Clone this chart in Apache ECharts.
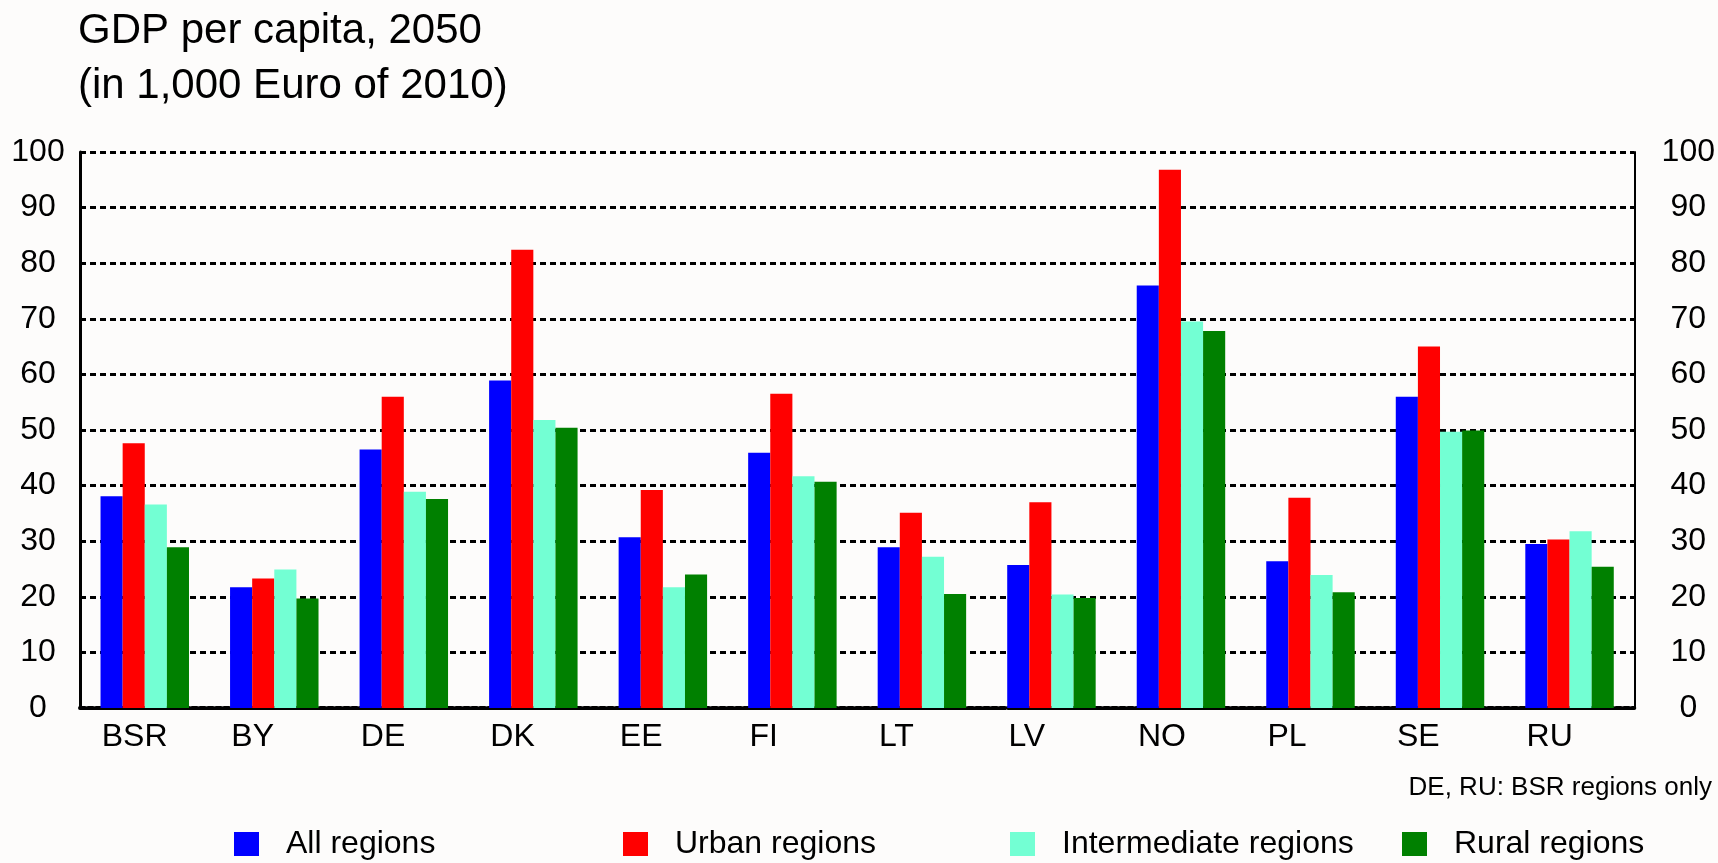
<!DOCTYPE html>
<html>
<head>
<meta charset="utf-8">
<script src="https://cdn.jsdelivr.net/npm/echarts@6/dist/echarts.min.js"></script>
<style>
  html, body { margin: 0; padding: 0; background: #fdfcfb; }
  #main { width: 1718px; height: 863px; }
</style>
</head>
<body>
<div id="main"></div>
<script>
var categories = ['BSR', 'BY', 'DE', 'DK', 'EE', 'FI', 'LT', 'LV', 'NO', 'PL', 'SE', 'RU'];
var seriesNames = ['All regions', 'Urban regions', 'Intermediate regions', 'Rural regions'];
var allRegions = [38.1, 21.7, 46.5, 58.9, 30.7, 45.9, 28.9, 25.7, 76.0, 26.4, 56.0, 29.5];
var urbanRegions = [47.6, 23.3, 56.0, 82.4, 39.2, 56.5, 35.1, 37.0, 96.8, 37.8, 65.0, 30.3];
var intermediateRegions = [36.6, 24.9, 38.9, 51.8, 21.7, 41.7, 27.2, 20.4, 69.5, 23.9, 49.7, 31.8];
var ruralRegions = [28.9, 19.7, 37.6, 50.4, 24.0, 40.7, 20.5, 19.8, 67.8, 20.8, 49.9, 25.4];

var colors = ['#0000ff', '#ff0000', '#73ffd3', '#008000'];
var font = 'Liberation Sans, Arial, sans-serif';
var legendLeft = [234, 623, 1010, 1402];

var myChart = echarts.init(document.getElementById('main'));

var values = [allRegions, urbanRegions, intermediateRegions, ruralRegions];

var series = seriesNames.map(function (name, i) {
  return {
    name: name,
    type: 'bar',
    yAxisIndex: 0,
    barGap: '0%',
    barCategoryGap: '31.7%',
    itemStyle: { color: colors[i] },
    data: values[i]
  };
});

// one legend per item, the reference spaces them evenly
var legends = seriesNames.map(function (name, i) {
  return {
    data: [name],
    left: legendLeft[i],
    top: 828,
    padding: 0,
    icon: 'rect',
    itemWidth: 25,
    itemHeight: 24,
    selectedMode: false,
    textStyle: {
      fontFamily: font,
      fontSize: 32,
      color: '#000',
      padding: [0, 0, 0, 22]
    }
  };
});

var option = {
  backgroundColor: '#fdfcfb',
  animation: false,
  color: colors,
  title: [
    {
      text: 'GDP per capita, 2050\n(in 1,000 Euro of 2010)',
      left: 78,
      top: 4,
      padding: 0,
      textStyle: {
        fontFamily: font,
        fontSize: 42,
        lineHeight: 55,
        fontWeight: 'normal',
        color: '#000'
      }
    },
    {
      text: 'DE, RU: BSR regions only',
      right: 6,
      top: 775,
      padding: 0,
      textStyle: {
        fontFamily: font,
        fontSize: 26,
        lineHeight: 26,
        fontWeight: 'normal',
        color: '#000'
      }
    }
  ],
  legend: legends,
  grid: {
    left: 80,
    right: 80,
    top: 152,
    bottom: 155,
    containLabel: false
  },
  xAxis: {
    type: 'category',
    data: categories,
    axisTick: { show: false },
    axisLine: {
      lineStyle: { color: '#000', width: 4, type: [5, 3] }
    },
    axisLabel: {
      margin: 13,
      align: 'center',
      formatter: function (v) { return '{t|' + v + '}'; },
      rich: {
        t: {
          width: 86,
          align: 'left',
          fontFamily: font,
          fontSize: 32,
          color: '#000'
        }
      }
    }
  },
  yAxis: [
    {
      type: 'value',
      position: 'left',
      min: 0,
      max: 100,
      interval: 10,
      axisLine: { show: true, lineStyle: { color: '#000', width: 3 } },
      axisTick: { show: false },
      axisLabel: {
        margin: 42,
        align: 'center',
        padding: [0, 0, 7, 0],
        fontFamily: font,
        fontSize: 32,
        color: '#000'
      },
      splitLine: {
        show: true,
        lineStyle: { color: '#000', width: 3, type: [6, 4] }
      }
    },
    {
      type: 'value',
      position: 'right',
      min: 0,
      max: 100,
      interval: 10,
      axisLine: { show: true, lineStyle: { color: '#000', width: 2 } },
      axisTick: { show: false },
      axisLabel: {
        margin: 54,
        align: 'center',
        padding: [0, 0, 7, 0],
        fontFamily: font,
        fontSize: 32,
        color: '#000'
      },
      splitLine: { show: false }
    }
  ],
  series: series
};

myChart.setOption(option);
</script>
</body>
</html>
